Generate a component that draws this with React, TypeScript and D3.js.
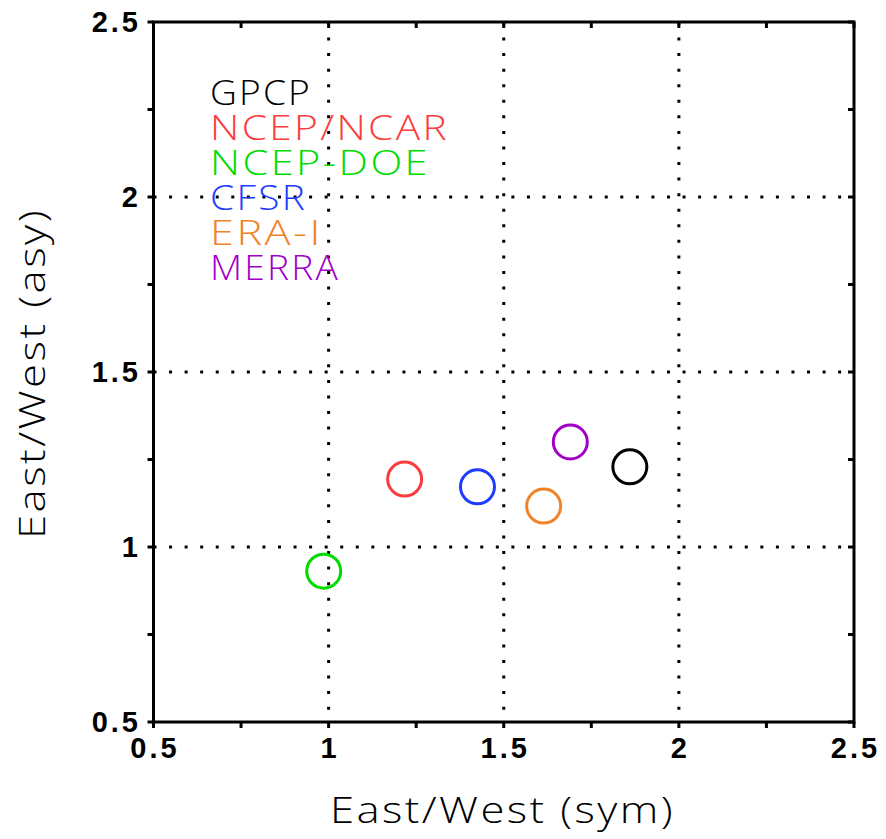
import React from "react";
import * as d3 from "d3";

// Datasets and their positions in (sym, asy) ratio space
const datasets = ["GPCP", "NCEP/NCAR", "NCEP-DOE", "CFSR", "ERA-I", "MERRA"];
const symRatio = [1.86, 1.217, 0.986, 1.425, 1.614, 1.69];
const asyRatio = [1.229, 1.194, 0.931, 1.172, 1.117, 1.3];
const colors = ["#000000", "#fa3c3c", "#00dc00", "#1e3cff", "#f08228", "#a000c8"];

const axisTicks = [0.5, 1, 1.5, 2, 2.5];
const axisTickLabels = ["0.5", "1", "1.5", "2", "2.5"];
const minorTicks = [0.75, 1.25, 1.75, 2.25];
const gridValues = [1, 1.5, 2];

const xTitle = "East/West (sym)";
const yTitle = "East/West (asy)";

const W = 886;
const H = 839;
const left = 153.5;
const right = 854;
const top = 22;
const bottom = 722;

export default function App() {
  const x = d3.scaleLinear().domain([0.5, 2.5]).range([left, right]);
  const y = d3.scaleLinear().domain([0.5, 2.5]).range([bottom, top]);
  const allTicks = [...axisTicks, ...minorTicks];
  const tickLen = 6;
  const thinFont = "'Open Sans', 'Liberation Sans', sans-serif";
  const boldFont = "'Liberation Sans', Arial, sans-serif";
  const ls = 3;
  const legendWidths = [102, 239, 220, 97, 113, 130];

  return (
    <svg width={W} height={H} style={{ position: "absolute", left: 0, top: 0 }}>
      <rect width={W} height={H} fill="#ffffff" />
      {/* dotted grid */}
      {gridValues.map((v) => (
        <line key={"gx" + v} x1={x(v)} x2={x(v)} y1={top} y2={bottom}
          stroke="#000" strokeWidth={3} strokeDasharray="3 12.56" />
      ))}
      {gridValues.map((v) => (
        <line key={"gy" + v} x1={left} x2={right} y1={y(v)} y2={y(v)}
          stroke="#000" strokeWidth={3} strokeDasharray="3 12.56" />
      ))}
      {/* ticks: x ticks point down, y ticks point left */}
      {allTicks.map((v) => (
        <g key={"t" + v}>
          <line x1={x(v)} x2={x(v)} y1={top} y2={top + tickLen} stroke="#000" strokeWidth={3} />
          <line x1={x(v)} x2={x(v)} y1={bottom} y2={bottom + tickLen} stroke="#000" strokeWidth={3} />
          <line x1={left - tickLen} x2={left} y1={y(v)} y2={y(v)} stroke="#000" strokeWidth={3} />
          <line x1={right - tickLen} x2={right} y1={y(v)} y2={y(v)} stroke="#000" strokeWidth={3} />
        </g>
      ))}
      {/* frame */}
      <rect x={left} y={top} width={right - left} height={bottom - top}
        fill="none" stroke="#000" strokeWidth={3} />
      {/* tick labels */}
      {axisTicks.map((v, i) => (
        <text key={"xl" + v} x={x(v) + ls / 2} y={758} textAnchor="middle"
          fontFamily={boldFont} fontWeight={700} fontSize={29} letterSpacing={ls}>
          {axisTickLabels[i]}
        </text>
      ))}
      {axisTicks.map((v, i) => (
        <text key={"yl" + v} x={138 + ls} y={y(v) + 10} textAnchor="end"
          fontFamily={boldFont} fontWeight={700} fontSize={29} letterSpacing={ls}>
          {axisTickLabels[i]}
        </text>
      ))}
      {/* markers */}
      {datasets.map((d, i) => (
        <circle key={d} cx={x(symRatio[i])} cy={y(asyRatio[i])} r={17}
          fill="none" stroke={colors[i]} strokeWidth={3} />
      ))}
      {/* legend */}
      {datasets.map((d, i) => (
        <text key={"lg" + d} x={210} y={105 + 35 * i} fill={colors[i]}
          fontFamily={thinFont} fontWeight={300} fontSize={34} letterSpacing={2}
          textLength={legendWidths[i]} lengthAdjust="spacingAndGlyphs">
          {d}
        </text>
      ))}
      {/* axis titles */}
      <text x={330} y={823} fontFamily={thinFont} fontWeight={300} fontSize={36}
        letterSpacing={2} textLength={345} lengthAdjust="spacingAndGlyphs">
        {xTitle}
      </text>
      <text transform="translate(45,539) rotate(-90)" fontFamily={thinFont} fontWeight={300}
        fontSize={36} letterSpacing={2} textLength={331} lengthAdjust="spacingAndGlyphs">
        {yTitle}
      </text>
    </svg>
  );
}
